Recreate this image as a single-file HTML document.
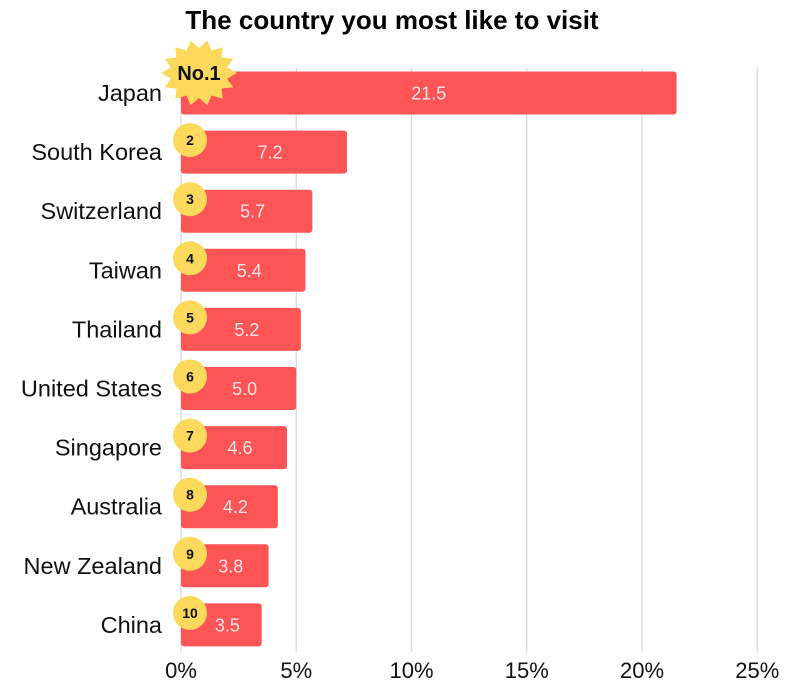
<!DOCTYPE html>
<html><head><meta charset="utf-8"><style>
body{margin:0;background:#fff}
svg{display:block}
text{font-family:"Liberation Sans",sans-serif}
</style></head><body>
<svg id="chart" width="785" height="692">
<text x="392" y="29" text-anchor="middle" font-size="26" font-weight="bold" fill="#000">The country you most like to visit</text>
<g id="grid"></g><g id="bars"></g><g id="ticks"></g>
</svg>
<script>
const categories=["Japan","South Korea","Switzerland","Taiwan","Thailand","United States","Singapore","Australia","New Zealand","China"];
const values=[21.5,7.2,5.7,5.4,5.2,5.0,4.6,4.2,3.8,3.5];
const ranks=["No.1","2","3","4","5","6","7","8","9","10"];
const tickValues=[0,5,10,15,20,25];
const tickLabels=["0%","5%","10%","15%","20%","25%"];
const NS="http://www.w3.org/2000/svg";
const x=v=>181+v*23.05;
const yc=i=>93+i*59.1;
function mk(tag,attrs,parent,txt){const e=document.createElementNS(NS,tag);for(const k in attrs)e.setAttribute(k,attrs[k]);if(txt!==undefined)e.textContent=txt;parent.appendChild(e);return e;}
const grid=document.getElementById('grid'),bars=document.getElementById('bars'),ticks=document.getElementById('ticks');
tickValues.forEach((t,i)=>{
 const l=mk('line',{x1:x(t),x2:x(t),y1:68,y2:652,stroke:'#d9d9d9','stroke-width':1.3},grid);
 
 
 const tx=mk('text',{x:x(t),y:678,'text-anchor':'middle','font-size':22,fill:'#111'},ticks,tickLabels[i]);
 
 
});
categories.forEach((c,i)=>{
 const y=yc(i);
 const r=mk('rect',{x:x(0),y:y-21.5,width:x(values[i])-x(0),height:43,rx:3,fill:'#fd5456'},bars);
 
 
 const vl=mk('text',{x:(x(0)+x(values[i]))/2+(i==0?0:6),y:y+6.5,'text-anchor':'middle','font-size':18,fill:'#fde3e3'},bars,values[i].toFixed(1));
 
 
 const cl=mk('text',{x:162,y:y+8,'text-anchor':'end','font-size':23.5,fill:'#111'},bars,c);
 
 
 if(i==0){
  let pts=[];const cx=199,cy=73,n=14;
  for(let k=0;k<n*2;k++){const a=k*Math.PI/n;const rr=k%2?25:33;pts.push((cx+rr*Math.cos(a)*1.15).toFixed(1)+','+(cy+rr*Math.sin(a)).toFixed(1));}
  const s=mk('polygon',{points:pts.join(' '),fill:'#fcd95a'},bars);
  
  
  const t=mk('text',{x:cx,y:cy+7,'text-anchor':'middle','font-size':20,'font-weight':'bold',fill:'#111'},bars,ranks[i]);
  
  
 } else {
  const ci=mk('circle',{cx:190,cy:y-12,r:17,fill:'#fcd95a'},bars);
  
  
  const t=mk('text',{x:190,y:y-7,'text-anchor':'middle','font-size':14,'font-weight':'bold',fill:'#111'},bars,ranks[i]);
  
  
 }
});
</script>
</body></html>
